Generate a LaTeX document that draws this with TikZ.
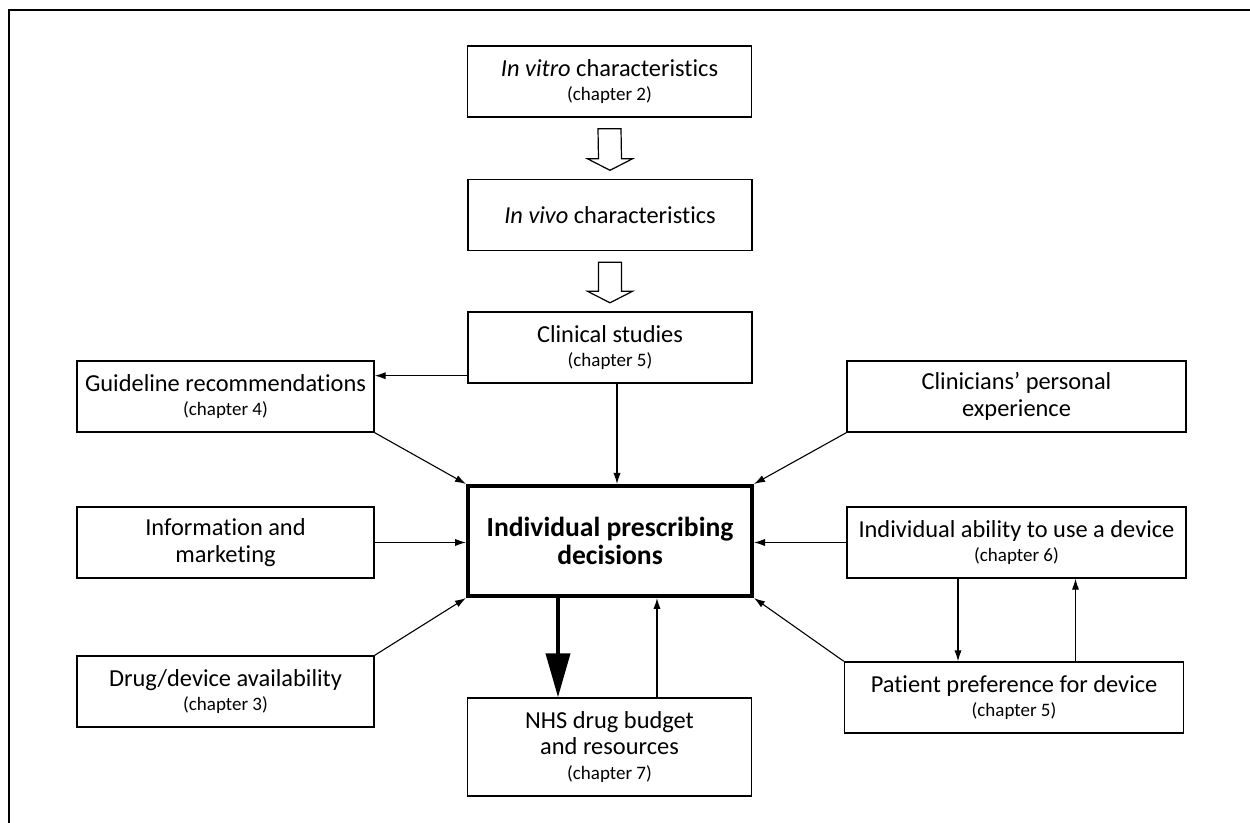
\documentclass[tikz,border=0pt]{standalone}
\usepackage{fontspec}
\setmainfont{Carlito}[Ligatures=NoCommon]
\usetikzlibrary{arrows.meta,calc}

\newcommand{\chap}[1]{\\[-1pt]{\fontsize{9.5}{11}\selectfont (chapter #1)}}
% open block arrow between two boxes
\newcommand{\blockarrow}[2]{%
  \draw[line width=0.6pt] ($(#1.south)+(-11.5,11)$) -- ($(#2.north)+(-11.5,-20)$)
    -- ($(#2.north)+(-22.5,-20)$) -- ($(#2.north)+(0,-8.5)$)
    -- ($(#2.north)+(22.5,-20)$) -- ($(#2.north)+(11.5,-20)$)
    -- ($(#1.south)+(11.5,11)$) -- cycle;}

\begin{document}
\begin{tikzpicture}[x=0.5pt, y=-0.5pt,
    box/.style={draw, line width=0.7pt, align=center, inner sep=0pt,
      minimum height=35.5pt, font=\fontsize{12.2}{13.3}\selectfont},
    midbox/.style={box, minimum width=142pt},
    sidebox/.style={box, minimum width=148.5pt},
    rightbox/.style={box, minimum width=169.5pt},
    link/.style={-{Latex[length=5.5pt,width=3.6pt]}, line width=0.55pt}]
    \useasboundingbox (0,0) rectangle (1250,823);
    \draw[line width=0.9pt] (1250,10) -- (9,10) -- (9,823);

    % centre column
    \node[midbox] (vitro) at (609.5, 81.5) {\textit{In vitro} characteristics\chap{2}};
    \node[midbox] (vivo) at (610, 215) {\textit{In vivo} characteristics};
    \node[midbox] (clinical) at (610, 347.5) {Clinical studies\chap{5}};
    \node[midbox, line width=2pt, minimum height=55pt,
      font=\bfseries\fontsize{13.8}{13.8}\selectfont] (decide) at (610, 541)
      {Individual prescribing\\decisions};
    \node[midbox, minimum height=49pt] (nhs) at (609.5, 747)
      {NHS drug budget\\and resources\chap{7}};

    % left column
    \node[sidebox] (guide) at (225.5, 396.5) {Guideline recommendations\chap{4}};
    \node[sidebox] (info) at (225.5, 542.5) {Information and\\marketing};
    \node[sidebox] (avail) at (225.5, 691.5) {Drug/device availability\chap{3}};

    % right column
    \node[rightbox] (clinexp) at (1016.5, 396.5) {Clinicians’ personal\\experience};
    \node[rightbox] (ability) at (1016.5, 542.5) {Individual ability to use a device\chap{6}};
    \node[rightbox] (prefer) at (1014, 697.5) {Patient preference for device\chap{5}};

    \blockarrow{vitro}{vivo}
    \blockarrow{vivo}{clinical}

    \draw[link] ([yshift=4pt]clinical.south west) -- ([yshift=4pt]clinical.south west -| guide.east);
    \draw[link] ([xshift=3.5pt]clinical.south) -- ([xshift=3.5pt]decide.north);
    \draw[link] (guide.south east) -- (decide.north west);
    \draw[link] (clinexp.south west) -- (decide.north east);
    \draw[link] (info.east) -- (info.east -| decide.west);
    \draw[link] (ability.west) -- (ability.west -| decide.east);
    \draw[link] (avail.north east) -- (decide.south west);
    \draw[link] (prefer.north west) -- (decide.south east);
    \draw[-{Triangle[length=22pt,width=12pt]}, line width=2pt]
      ([xshift=-26pt]decide.south) -- ([xshift=-26pt]decide.south |- nhs.north);
    \draw[link] ([xshift=23.75pt]nhs.north) -- ([xshift=23.75pt]nhs.north |- decide.south);
    \draw[link] ([xshift=-29.25pt]ability.south) -- ([xshift=-29.25pt]ability.south |- prefer.north);
    \draw[link] ([xshift=30.75pt]prefer.north) -- ([xshift=30.75pt]prefer.north |- ability.south);
\end{tikzpicture}
\end{document}
